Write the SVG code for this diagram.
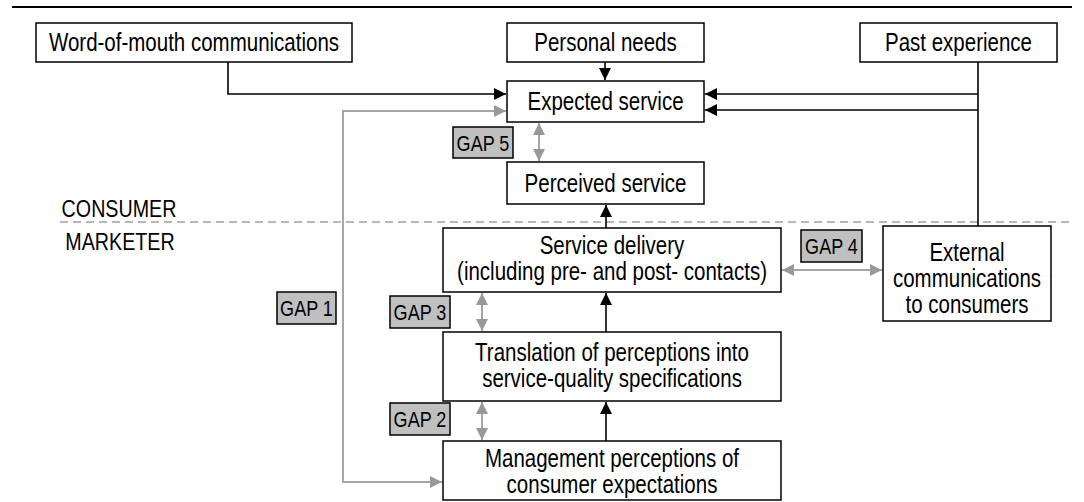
<svg xmlns="http://www.w3.org/2000/svg" width="1084" height="502" viewBox="0 0 1084 502">
  <defs>
    <style>
      .box { fill: #ffffff; stroke: #000000; stroke-width: 1.5; }
      .gap { fill: #c0c0c0; stroke: #000000; stroke-width: 1.5; }
      .lbl { font-family: "Liberation Sans", Arial, sans-serif; font-size: 25px; fill: #000000; text-anchor: middle; }
      .gaplbl { font-family: "Liberation Sans", Arial, sans-serif; font-size: 22px; fill: #000000; text-anchor: middle; }
      .side { font-family: "Liberation Sans", Arial, sans-serif; font-size: 24px; fill: #000000; text-anchor: middle; }
      .flow { fill: none; stroke: #000000; stroke-width: 1.6; }
      .gapflow { fill: none; stroke: #a6a6a6; stroke-width: 2; }
    </style>
    <marker id="arrowBlack" viewBox="0 0 12 12" refX="12" refY="6" markerWidth="12" markerHeight="12" markerUnits="userSpaceOnUse" orient="auto">
      <path d="M0,0 L12,6 L0,12 z" fill="#000000"/>
    </marker>
    <marker id="arrowGrey" viewBox="0 0 12 12" refX="12" refY="6" markerWidth="12" markerHeight="12" markerUnits="userSpaceOnUse" orient="auto-start-reverse">
      <path d="M0,0 L12,6 L0,12 z" fill="#999999"/>
    </marker>
  </defs>

  <rect width="1084" height="502" fill="#ffffff"/>

  <!-- header rule and consumer / marketer divide -->
  <line x1="12" y1="7" x2="1072" y2="7" stroke="#000000" stroke-width="2"/>
  <line x1="60" y1="222" x2="1070" y2="222" stroke="#a0a0a0" stroke-width="1.6" stroke-dasharray="8 5"/>
  <!-- labels use a condensed horizontal scale: translate(x,y) scale(0.82,1) -->
  <text class="side" transform="translate(119,217) scale(0.82,1)">CONSUMER</text>
  <text class="side" transform="translate(120,250) scale(0.82,1)">MARKETER</text>

  <g id="connectors">
    <polyline class="flow" points="228,62 228,94 506,94" marker-end="url(#arrowBlack)"/>
    <line class="flow" x1="605" y1="62" x2="605" y2="80" marker-end="url(#arrowBlack)"/>
    <line class="flow" x1="978" y1="62" x2="978" y2="226"/>
    <line class="flow" x1="978" y1="94" x2="705" y2="94" marker-end="url(#arrowBlack)"/>
    <line class="flow" x1="978" y1="110" x2="705" y2="110" marker-end="url(#arrowBlack)"/>
    <line class="flow" x1="606" y1="228" x2="606" y2="205" marker-end="url(#arrowBlack)"/>
    <line class="flow" x1="606" y1="332" x2="606" y2="293" marker-end="url(#arrowBlack)"/>
    <line class="flow" x1="606" y1="441" x2="606" y2="402" marker-end="url(#arrowBlack)"/>
    <!-- gap 1 loop -->
    <polyline class="gapflow" points="506,111 343,111 343,482 442,482" marker-start="url(#arrowGrey)" marker-end="url(#arrowGrey)"/>
    <!-- gap double arrows -->
    <line class="gapflow" x1="539" y1="123" x2="539" y2="161" marker-start="url(#arrowGrey)" marker-end="url(#arrowGrey)"/>
    <line class="gapflow" x1="482" y1="293" x2="482" y2="331" marker-start="url(#arrowGrey)" marker-end="url(#arrowGrey)"/>
    <line class="gapflow" x1="482" y1="402" x2="482" y2="440" marker-start="url(#arrowGrey)" marker-end="url(#arrowGrey)"/>
    <line class="gapflow" x1="782" y1="270" x2="882" y2="270" marker-start="url(#arrowGrey)" marker-end="url(#arrowGrey)"/>
  </g>

  <g id="word-of-mouth">
    <rect class="box" x="36" y="23" width="316" height="39"/>
    <text class="lbl" transform="translate(194,51) scale(0.82,1)">Word-of-mouth communications</text>
  </g>
  <g id="personal-needs">
    <rect class="box" x="507" y="23" width="197" height="39"/>
    <text class="lbl" transform="translate(605.5,51) scale(0.82,1)">Personal needs</text>
  </g>
  <g id="past-experience">
    <rect class="box" x="860" y="23" width="197" height="39"/>
    <text class="lbl" transform="translate(958.5,51) scale(0.82,1)">Past experience</text>
  </g>
  <g id="expected-service">
    <rect class="box" x="507" y="81" width="197" height="41"/>
    <text class="lbl" transform="translate(605.5,110) scale(0.82,1)">Expected service</text>
  </g>
  <g id="perceived-service">
    <rect class="box" x="507" y="162" width="197" height="42"/>
    <text class="lbl" transform="translate(605.5,192) scale(0.82,1)">Perceived service</text>
  </g>
  <g id="service-delivery">
    <rect class="box" x="443" y="228" width="338" height="64"/>
    <text class="lbl" transform="translate(612,254) scale(0.82,1)">Service delivery</text>
    <text class="lbl" transform="translate(612,280) scale(0.82,1)">(including pre- and post- contacts)</text>
  </g>
  <g id="external-communications">
    <rect class="box" x="883" y="226" width="168" height="95"/>
    <text class="lbl" transform="translate(967,261) scale(0.82,1)">External</text>
    <text class="lbl" transform="translate(967,287) scale(0.82,1)">communications</text>
    <text class="lbl" transform="translate(967,313) scale(0.82,1)">to consumers</text>
  </g>
  <g id="translation">
    <rect class="box" x="443" y="332" width="338" height="69"/>
    <text class="lbl" transform="translate(612,361) scale(0.82,1)">Translation of perceptions into</text>
    <text class="lbl" transform="translate(612,387) scale(0.82,1)">service-quality specifications</text>
  </g>
  <g id="management-perceptions">
    <rect class="box" x="443" y="441" width="338" height="59"/>
    <text class="lbl" transform="translate(612,467) scale(0.82,1)">Management perceptions of</text>
    <text class="lbl" transform="translate(612,493) scale(0.82,1)">consumer expectations</text>
  </g>

  <g id="gap-1">
    <rect class="gap" x="277" y="292" width="59" height="32"/>
    <text class="gaplbl" transform="translate(306.5,316) scale(0.82,1)">GAP 1</text>
  </g>
  <g id="gap-2">
    <rect class="gap" x="390" y="403" width="60" height="32"/>
    <text class="gaplbl" transform="translate(420,427) scale(0.82,1)">GAP 2</text>
  </g>
  <g id="gap-3">
    <rect class="gap" x="390" y="296" width="60" height="32"/>
    <text class="gaplbl" transform="translate(420,320) scale(0.82,1)">GAP 3</text>
  </g>
  <g id="gap-4">
    <rect class="gap" x="801" y="230" width="61" height="32"/>
    <text class="gaplbl" transform="translate(831.5,254) scale(0.82,1)">GAP 4</text>
  </g>
  <g id="gap-5">
    <rect class="gap" x="453" y="127" width="60" height="31"/>
    <text class="gaplbl" transform="translate(483,151) scale(0.82,1)">GAP 5</text>
  </g>
</svg>
